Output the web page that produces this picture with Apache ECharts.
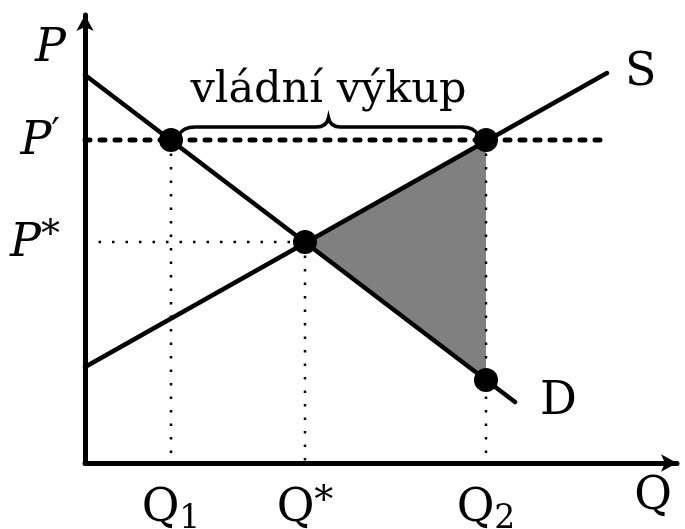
<!DOCTYPE html>
<html>
<head>
<meta charset="utf-8">
<script src="https://cdn.jsdelivr.net/npm/echarts@6/dist/echarts.min.js"></script>
<style>
  html, body { margin: 0; padding: 0; background: #fff; }
  #chart { width: 685px; height: 529px; }
</style>
</head>
<body>
<div id="chart"></div>
<script>
// quantities and prices on the axes
const qValues = [86, 220, 401];          // Q1, Q*, Q2
const qNames = ['{q|Q}{sub|1}', '{q|Q}{n|*}', '{q|Q}{sub|2}'];
const pValues = [221, 323];              // P*, P'
const pNames = ['{p|P}{n|*}', '{p|P}{n|′}'];

// demand and supply lines
const demand = [[0, 388], [430, 61]];
const supply = [[0, 96], [522, 390]];

// minimum price P' line
const floorLine = [[0, 323], [520, 323]];

// marked points
const points = [[86, 323], [401, 323], [220, 221], [401, 83]];

// shaded triangle
const surplus = [[220, 221], [401, 323], [401, 83]];

// dotted guides
const guides = [
  [[86, 323], [86, 0]],
  [[220, 221], [220, 0]],
  [[401, 323], [401, 0]],
  [[0, 221], [220, 221]]
];

// brace: from, to, at price
const brace = [86, 401, 323];
const braceText = 'vládní výkup';

const serif = 'DejaVu Serif';

const chart = echarts.init(document.getElementById('chart'));

let series = [];

series.push({
  type: 'custom',
  silent: true,
  data: [0],
  renderItem: (params, api) => {
    let pts = surplus.map(p => api.coord(p));
    return {
      type: 'polygon',
      shape: { points: pts },
      style: { fill: '#808080', stroke: 'none' }
    };
  }
});

for (let g of guides) {
  series.push({
    type: 'line',
    data: g,
    showSymbol: false,
    silent: true,
    lineStyle: { color: '#000', width: 2.5, type: [2.5, 11] }
  });
}

series.push({
  type: 'line',
  data: floorLine,
  showSymbol: false,
  silent: true,
  lineStyle: { color: '#000', width: 5, type: [5, 10], cap: 'round' }
});

series.push({
  type: 'line',
  data: demand,
  showSymbol: false,
  silent: true,
  lineStyle: { color: '#000', width: 4.5, cap: 'round' },
  endLabel: { show: true, formatter: 'D', distance: 25, color: '#000', fontFamily: serif, fontSize: 46 }
});

series.push({
  type: 'line',
  data: supply,
  showSymbol: false,
  silent: true,
  lineStyle: { color: '#000', width: 4.5, cap: 'round' },
  endLabel: { show: true, formatter: 'S', distance: 18, color: '#000', fontFamily: serif, fontSize: 46, padding: [4, 0, 0, 0] }
});

series.push({
  type: 'custom',
  silent: true,
  data: [brace],
  renderItem: (params, api) => {
    let a = api.coord([api.value(0), api.value(2)]);
    let b = api.coord([api.value(1), api.value(2)]);
    let y = a[1];
    let sx = a[0] + 8, ex = b[0] - 8, mx = (a[0] + b[0]) / 2;
    let top = y - 13, tip = y - 22;
    let path = 'M' + sx + ',' + (y - 5) +
      ' Q' + (sx + 4) + ',' + top + ' ' + (sx + 16) + ',' + top +
      ' L' + (mx - 12) + ',' + top +
      ' Q' + (mx - 2) + ',' + top + ' ' + mx + ',' + tip +
      ' Q' + (mx + 2) + ',' + top + ' ' + (mx + 12) + ',' + top +
      ' L' + (ex - 16) + ',' + top +
      ' Q' + (ex - 4) + ',' + top + ' ' + ex + ',' + (y - 5);
    return {
      type: 'group',
      children: [
        {
          type: 'path',
          shape: { pathData: path },
          style: { fill: 'none', stroke: '#000', lineWidth: 3.5, lineCap: 'round' }
        },
        {
          type: 'text',
          x: mx,
          y: y - 49,
          style: {
            text: braceText,
            fill: '#000',
            font: '43px "DejaVu Serif"',
            align: 'center',
            verticalAlign: 'middle'
          }
        }
      ]
    };
  }
});

series.push({
  type: 'scatter',
  data: points,
  symbol: 'circle',
  symbolSize: 24,
  silent: true,
  itemStyle: { color: '#000', opacity: 1 }
});

chart.setOption({
  animation: false,
  backgroundColor: '#fff',
  grid: { left: 85, right: 8, top: 15, bottom: 66, outerBoundsMode: 'none', containLabel: false },
  xAxis: {
    type: 'value',
    min: 0,
    max: 592,
    name: 'Q',
    nameLocation: 'end',
    nameGap: -24,
    nameTextStyle: { color: '#000', fontFamily: serif, fontSize: 46, align: 'center', verticalAlign: 'top', padding: [11, 0, 0, 0] },
    axisLine: { lineStyle: { color: '#000', width: 5 }, symbol: ['none', 'arrow'], symbolSize: [13, 16] },
    axisTick: { show: false },
    splitLine: { show: false },
    axisLabel: {
      customValues: qValues,
      margin: 20,
      color: '#000',
      formatter: v => qNames[qValues.indexOf(v)],
      rich: {
        q: { fontFamily: serif, fontSize: 46, color: '#000' },
        n: { fontFamily: serif, fontSize: 38, color: '#000', padding: [0, 0, 14, 0] },
        sub: { fontFamily: serif, fontSize: 33, color: '#000', padding: [20, 0, 0, 0] }
      }
    }
  },
  yAxis: {
    type: 'value',
    min: 0,
    max: 448,
    name: 'P',
    nameLocation: 'end',
    nameGap: -34,
    nameTextStyle: { color: '#000', fontFamily: serif, fontStyle: 'italic', fontSize: 46, align: 'right', verticalAlign: 'middle', padding: [0, 19, 0, 0] },
    axisLine: { lineStyle: { color: '#000', width: 5 }, symbol: ['none', 'arrow'], symbolSize: [13, 16] },
    axisTick: { show: false },
    splitLine: { show: false },
    axisLabel: {
      customValues: pValues,
      margin: 25,
      color: '#000',
      formatter: v => pNames[pValues.indexOf(v)],
      rich: {
        p: { fontFamily: serif, fontStyle: 'italic', fontSize: 46, color: '#000', padding: [5, 0, 0, 0] },
        n: { fontFamily: serif, fontSize: 38, color: '#000', padding: [0, 0, 12, 0] }
      }
    }
  },
  series: series
});
</script>
</body>
</html>
